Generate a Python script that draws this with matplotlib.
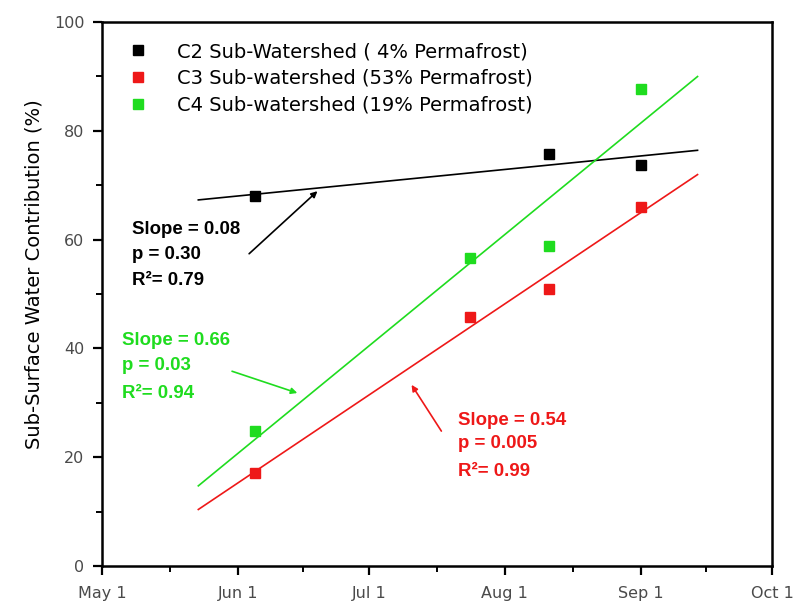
import datetime as dt
import numpy as np
import matplotlib
matplotlib.use("Agg")
import matplotlib.pyplot as plt
import matplotlib.dates as mdates
from matplotlib.ticker import FixedLocator, FuncFormatter

plt.rcParams['font.family'] = ['DejaVu Sans']

# Sampling dates and sub-surface water contribution (%) per sub-watershed
c2_dates = ["2007-06-05", "2007-08-11", "2007-09-01"]
c2_values = [68.0, 75.7, 73.7]
c34_dates = ["2007-06-05", "2007-07-24", "2007-08-11", "2007-09-01"]
c3_values = [17.1, 45.8, 50.9, 66.0]
c4_values = [24.8, 56.6, 58.8, 87.7]

# Regression summaries (slope in % per day)
slopes = [0.08, 0.54, 0.66]
p_values = ["0.30", "0.005", "0.03"]
r2_values = ["0.79", "0.99", "0.94"]
labels = ["C2 Sub-Watershed ( 4% Permafrost)",
          "C3 Sub-watershed (53% Permafrost)",
          "C4 Sub-watershed (19% Permafrost)"]
fit_span = ["2007-05-23", "2007-09-14"]
month_ticks = ["2007-05-01", "2007-06-01", "2007-07-01",
               "2007-08-01", "2007-09-01", "2007-10-01"]

BLACK, RED, GREEN = "#000000", "#ee1818", "#1fdc1f"


def to_num(ds):
    return np.array([mdates.date2num(dt.date.fromisoformat(d)) for d in ds])


fig = plt.figure(figsize=(7.93, 6.04), dpi=100)
ax = fig.add_axes([0.1286, 0.0629, 0.8449, 0.9007])

series = [(to_num(c2_dates), np.array(c2_values), BLACK),
          (to_num(c34_dates), np.array(c3_values), RED),
          (to_num(c34_dates), np.array(c4_values), GREEN)]
xfit = to_num(fit_span)

for (x, y, col), s, lab in zip(series, slopes, labels):
    ax.plot(x, y, ls="none", marker="s", ms=7.2, color=col, label=lab, zorder=3)
    xm, ym = x.mean(), y.mean()
    ax.plot(xfit, ym + s * (xfit - xm), color=col, lw=1.2, zorder=2)

# Axis setup
ticks = to_num(month_ticks)
ax.set_xlim(ticks[0], ticks[-1])
ax.set_ylim(0, 100)
ax.xaxis.set_major_locator(FixedLocator(ticks))
ax.xaxis.set_minor_locator(FixedLocator((ticks[:-1] + ticks[1:]) / 2))
ax.xaxis.set_major_formatter(FuncFormatter(
    lambda v, _: (lambda d: f"{d:%b} {d.day}")(mdates.num2date(v))))
ax.yaxis.set_major_locator(FixedLocator(np.arange(0, 101, 20)))
ax.yaxis.set_minor_locator(FixedLocator(np.arange(10, 100, 20)))
ax.tick_params(which="major", direction="out", length=6.5, width=1.6,
               labelsize=11.5, labelcolor="#4a4a4a", pad=6)
ax.tick_params(axis="x", which="major", pad=8)
ax.tick_params(which="minor", direction="out", length=4, width=1.4)
for sp in ax.spines.values():
    sp.set_linewidth(1.8)
ax.set_ylabel("Sub-Surface Water Contribution (%)", fontsize=14)
ax.yaxis.set_label_coords(-0.088, 0.537)

leg = ax.legend(loc="upper left", bbox_to_anchor=(0.01, 0.995), frameon=False,
                fontsize=14, handletextpad=1.4, labelspacing=0.4,
                handlelength=1.2, markerscale=1.0)

base = mdates.date2num(dt.date(2007, 5, 1))


def stat_block(day, ys, col, s, p, r2):
    txt = [f"Slope = {s:.2f}", f"p = {p}", f"R\u00b2= {r2}"]
    for t, yv in zip(txt, ys):
        ax.text(base + day, yv, t, color=col, fontsize=13.4,
                family="Liberation Sans", fontweight="bold",
                va="center", ha="left")


stat_block(6.9, [61.8, 57.2, 52.4], BLACK, slopes[0], p_values[0], r2_values[0])
stat_block(4.6, [41.5, 36.9, 31.8], GREEN, slopes[2], p_values[2], r2_values[2])
stat_block(81.4, [26.8, 22.6, 17.3], RED, slopes[1], p_values[1], r2_values[1])

arrows = [((33.6, 57.4), (49.2, 68.9), BLACK),
          ((29.7, 35.8), (44.6, 31.8), GREEN),
          ((77.5, 24.8), (70.7, 33.3), RED)]
for (tx, ty), (hx, hy), col in arrows:
    ax.annotate("", xy=(base + hx, hy), xytext=(base + tx, ty),
                arrowprops=dict(arrowstyle="-|>", color=col, lw=1.2,
                                mutation_scale=9, shrinkA=0, shrinkB=0))

fig.savefig("out.png", dpi=100)
